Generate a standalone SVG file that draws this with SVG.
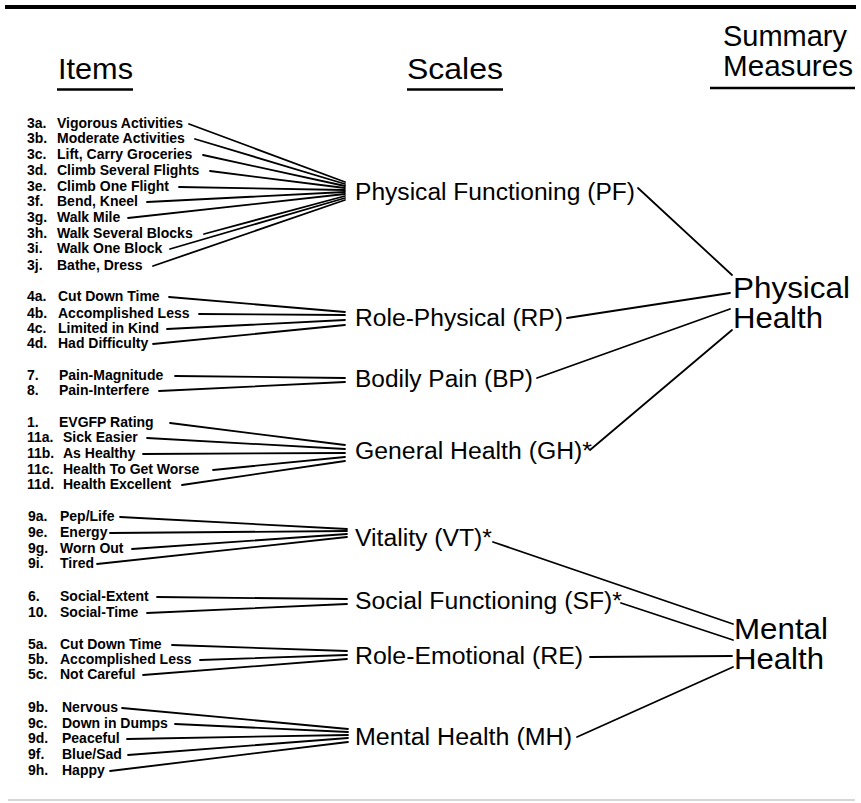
<svg xmlns="http://www.w3.org/2000/svg" width="861" height="803" viewBox="0 0 861 803">
<style>
text{font-family:"Liberation Sans",Arial,Helvetica,sans-serif;fill:#000}
.it{font-size:14px;font-weight:bold}
.sc{font-size:23.5px}
.sm{font-size:29.5px}
.hd{font-size:29px}
.cn line{stroke:#000;stroke-width:1.8;stroke-linecap:round}
.rule{stroke:#000;stroke-width:2.5}
</style>
<rect width="861" height="803" fill="#fff"/>
<line x1="5" y1="7" x2="856" y2="7" stroke="#000" stroke-width="4"/>
<line x1="8" y1="800" x2="855" y2="800" stroke="#c8c8c8" stroke-width="1.5"/>

<g id="header-items"><text class="hd" x="58" y="79" textLength="75" lengthAdjust="spacingAndGlyphs">Items</text><line class="rule" x1="57" y1="89.5" x2="133" y2="89.5"/></g>
<g id="header-scales"><text class="hd" x="407" y="79" textLength="96" lengthAdjust="spacingAndGlyphs">Scales</text><line class="rule" x1="407" y1="89.5" x2="503" y2="89.5"/></g>
<g id="header-summary"><text class="hd" x="723" y="46" textLength="124" lengthAdjust="spacingAndGlyphs">Summary</text><text class="hd" x="723" y="76" textLength="130" lengthAdjust="spacingAndGlyphs">Measures</text><line class="rule" x1="710" y1="88" x2="855" y2="88"/></g>

<!-- Items -->
<g id="item-3a"><text class="it" x="27" y="128">3a.</text><text class="it" x="57" y="128">Vigorous Activities</text></g>
<g id="item-3b"><text class="it" x="27" y="143">3b.</text><text class="it" x="57" y="143">Moderate Activities</text></g>
<g id="item-3c"><text class="it" x="27" y="159">3c.</text><text class="it" x="57" y="159">Lift, Carry Groceries</text></g>
<g id="item-3d"><text class="it" x="27" y="175">3d.</text><text class="it" x="57" y="175">Climb Several Flights</text></g>
<g id="item-3e"><text class="it" x="27" y="191">3e.</text><text class="it" x="57" y="191">Climb One Flight</text></g>
<g id="item-3f"><text class="it" x="27" y="206">3f.</text><text class="it" x="57" y="206">Bend, Kneel</text></g>
<g id="item-3g"><text class="it" x="27" y="222">3g.</text><text class="it" x="57" y="222">Walk Mile</text></g>
<g id="item-3h"><text class="it" x="27" y="238">3h.</text><text class="it" x="57" y="238">Walk Several Blocks</text></g>
<g id="item-3i"><text class="it" x="27" y="253">3i.</text><text class="it" x="57" y="253">Walk One Block</text></g>
<g id="item-3j"><text class="it" x="27" y="270">3j.</text><text class="it" x="57" y="270">Bathe, Dress</text></g>

<g id="item-4a"><text class="it" x="27" y="301">4a.</text><text class="it" x="58" y="301">Cut Down Time</text></g>
<g id="item-4b"><text class="it" x="27" y="318">4b.</text><text class="it" x="58" y="318">Accomplished Less</text></g>
<g id="item-4c"><text class="it" x="27" y="333">4c.</text><text class="it" x="58" y="333">Limited in Kind</text></g>
<g id="item-4d"><text class="it" x="27" y="348">4d.</text><text class="it" x="58" y="348">Had Difficulty</text></g>

<g id="item-7"><text class="it" x="27" y="380">7.</text><text class="it" x="59" y="380">Pain-Magnitude</text></g>
<g id="item-8"><text class="it" x="27" y="395">8.</text><text class="it" x="59" y="395">Pain-Interfere</text></g>

<g id="item-1"><text class="it" x="27" y="427">1.</text><text class="it" x="59" y="427">EVGFP Rating</text></g>
<g id="item-11a"><text class="it" x="27" y="442">11a.</text><text class="it" x="63" y="442">Sick Easier</text></g>
<g id="item-11b"><text class="it" x="27" y="458">11b.</text><text class="it" x="63" y="458">As Healthy</text></g>
<g id="item-11c"><text class="it" x="27" y="474">11c.</text><text class="it" x="63" y="474">Health To Get Worse</text></g>
<g id="item-11d"><text class="it" x="27" y="489">11d.</text><text class="it" x="63" y="489">Health Excellent</text></g>

<g id="item-9a"><text class="it" x="28" y="521">9a.</text><text class="it" x="60" y="521">Pep/Life</text></g>
<g id="item-9e"><text class="it" x="28" y="537">9e.</text><text class="it" x="60" y="537">Energy</text></g>
<g id="item-9g"><text class="it" x="28" y="553">9g.</text><text class="it" x="60" y="553">Worn Out</text></g>
<g id="item-9i"><text class="it" x="28" y="568">9i.</text><text class="it" x="60" y="568">Tired</text></g>

<g id="item-6"><text class="it" x="28" y="601">6.</text><text class="it" x="60" y="601">Social-Extent</text></g>
<g id="item-10"><text class="it" x="28" y="617">10.</text><text class="it" x="60" y="617">Social-Time</text></g>

<g id="item-5a"><text class="it" x="28" y="649">5a.</text><text class="it" x="60" y="649">Cut Down Time</text></g>
<g id="item-5b"><text class="it" x="28" y="664">5b.</text><text class="it" x="60" y="664">Accomplished Less</text></g>
<g id="item-5c"><text class="it" x="28" y="679">5c.</text><text class="it" x="60" y="679">Not Careful</text></g>

<g id="item-9b"><text class="it" x="28" y="712">9b.</text><text class="it" x="62" y="712">Nervous</text></g>
<g id="item-9c"><text class="it" x="28" y="728">9c.</text><text class="it" x="62" y="728">Down in Dumps</text></g>
<g id="item-9d"><text class="it" x="28" y="743">9d.</text><text class="it" x="62" y="743">Peaceful</text></g>
<g id="item-9f"><text class="it" x="28" y="759">9f.</text><text class="it" x="62" y="759">Blue/Sad</text></g>
<g id="item-9h"><text class="it" x="28" y="775">9h.</text><text class="it" x="62" y="775">Happy</text></g>

<!-- Scales -->
<g id="scale-PF"><text class="sc" x="355" y="200" textLength="280" lengthAdjust="spacingAndGlyphs">Physical Functioning (PF)</text></g>
<g id="scale-RP"><text class="sc" x="355" y="326" textLength="208" lengthAdjust="spacingAndGlyphs">Role-Physical (RP)</text></g>
<g id="scale-BP"><text class="sc" x="355" y="387" textLength="178" lengthAdjust="spacingAndGlyphs">Bodily Pain (BP)</text></g>
<g id="scale-GH"><text class="sc" x="355" y="459" textLength="237" lengthAdjust="spacingAndGlyphs">General Health (GH)*</text></g>
<g id="scale-VT"><text class="sc" x="355" y="546" textLength="137" lengthAdjust="spacingAndGlyphs">Vitality (VT)*</text></g>
<g id="scale-SF"><text class="sc" x="355" y="609" textLength="267" lengthAdjust="spacingAndGlyphs">Social Functioning (SF)*</text></g>
<g id="scale-RE"><text class="sc" x="355" y="664" textLength="228" lengthAdjust="spacingAndGlyphs">Role-Emotional (RE)</text></g>
<g id="scale-MH"><text class="sc" x="355" y="745" textLength="217" lengthAdjust="spacingAndGlyphs">Mental Health (MH)</text></g>

<!-- Summary measures -->
<g id="summary-physical"><text class="sm" x="733" y="298" textLength="117" lengthAdjust="spacingAndGlyphs">Physical</text><text class="sm" x="733" y="328" textLength="90" lengthAdjust="spacingAndGlyphs">Health</text></g>
<g id="summary-mental"><text class="sm" x="734" y="639" textLength="94" lengthAdjust="spacingAndGlyphs">Mental</text><text class="sm" x="734" y="669" textLength="90" lengthAdjust="spacingAndGlyphs">Health</text></g>

<g id="connectors" class="cn">
<line x1="189" y1="124" x2="345" y2="182"/>
<line x1="195" y1="139" x2="345" y2="184"/>
<line x1="203" y1="155" x2="345" y2="186"/>
<line x1="210" y1="171" x2="345" y2="188"/>
<line x1="179" y1="187" x2="345" y2="190"/>
<line x1="147" y1="202" x2="345" y2="192"/>
<line x1="128" y1="218" x2="345" y2="194"/>
<line x1="204" y1="234" x2="345" y2="196"/>
<line x1="170" y1="249" x2="345" y2="198"/>
<line x1="153" y1="266" x2="345" y2="200"/>

<line x1="169" y1="297" x2="345" y2="312"/>
<line x1="199" y1="314" x2="345" y2="315"/>
<line x1="167" y1="329" x2="345" y2="320"/>
<line x1="153" y1="344" x2="345" y2="325"/>

<line x1="175" y1="376" x2="345" y2="378"/>
<line x1="159" y1="391" x2="345" y2="382"/>

<line x1="170" y1="423" x2="345" y2="445"/>
<line x1="147" y1="438" x2="345" y2="449"/>
<line x1="143" y1="454" x2="345" y2="453"/>
<line x1="213" y1="470" x2="345" y2="457"/>
<line x1="182" y1="485" x2="345" y2="461"/>

<line x1="120" y1="517" x2="347" y2="529"/>
<line x1="110" y1="533" x2="347" y2="531"/>
<line x1="132" y1="549" x2="347" y2="534"/>
<line x1="97" y1="564" x2="347" y2="537"/>

<line x1="157" y1="597" x2="347" y2="599"/>
<line x1="147" y1="613" x2="347" y2="604"/>

<line x1="172" y1="645" x2="347" y2="651"/>
<line x1="200" y1="660" x2="347" y2="655"/>
<line x1="143" y1="675" x2="347" y2="659"/>

<line x1="122" y1="708" x2="348" y2="729"/>
<line x1="175" y1="724" x2="348" y2="732"/>
<line x1="127" y1="739" x2="348" y2="735"/>
<line x1="128" y1="755" x2="348" y2="738"/>
<line x1="110" y1="771" x2="348" y2="742"/>

<line x1="638" y1="188" x2="732" y2="275"/>
<line x1="567" y1="318" x2="730" y2="293"/>
<line x1="537" y1="378" x2="730" y2="309"/>
<line x1="590" y1="450" x2="732" y2="330"/>

<line x1="493" y1="542" x2="733" y2="624"/>
<line x1="621" y1="603" x2="733" y2="640"/>
<line x1="590" y1="657" x2="732" y2="656"/>
<line x1="577" y1="737" x2="733" y2="667"/>
</g>
</svg>
